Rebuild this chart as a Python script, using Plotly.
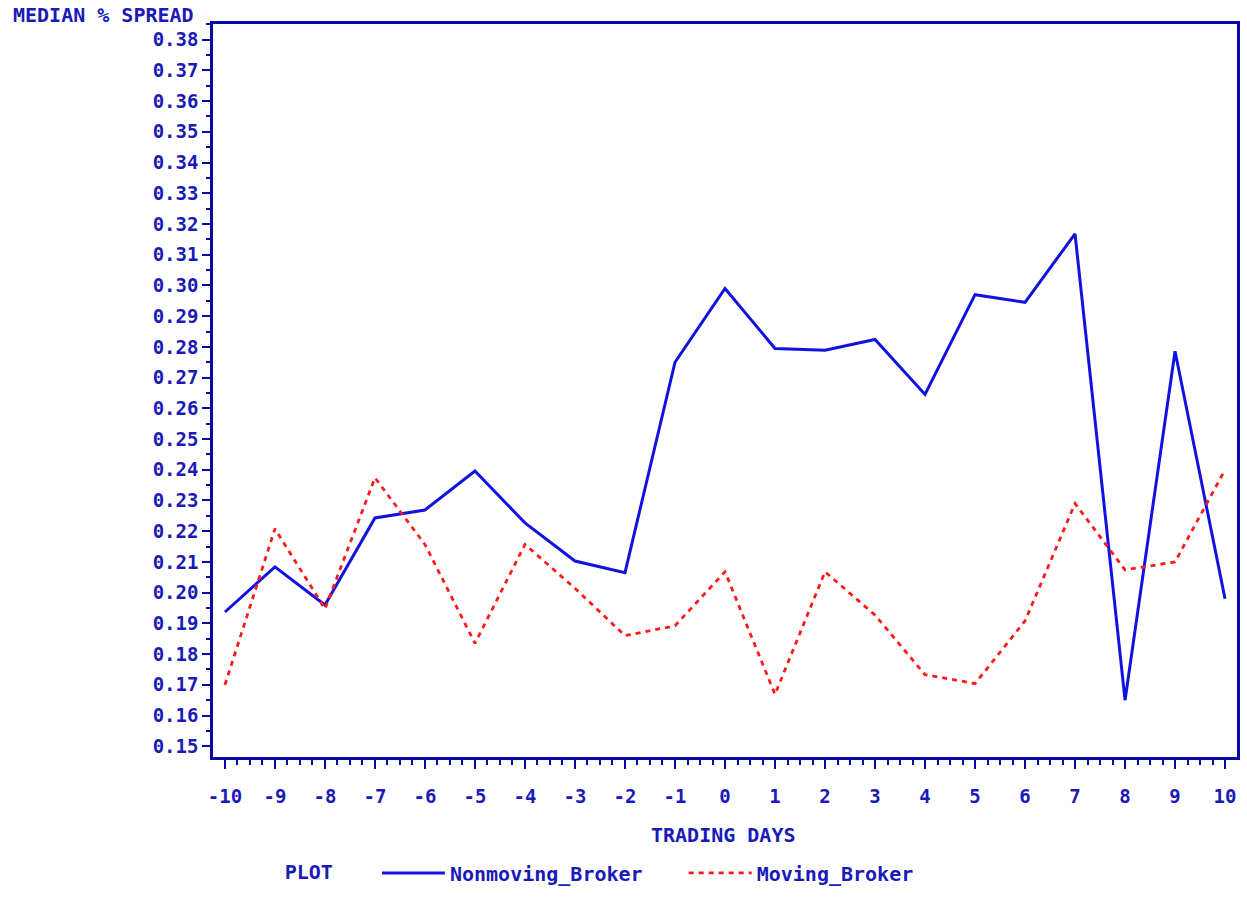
import plotly.graph_objects as go

days = list(range(-10, 11))
nonmoving = [0.1937, 0.2084, 0.1960, 0.2243, 0.2269, 0.2396, 0.2227, 0.2103, 0.2065,
             0.2750, 0.2990, 0.2795, 0.2789, 0.2824, 0.2645, 0.2970, 0.2945, 0.3168,
             0.1650, 0.2786, 0.1980]
moving = [0.1700, 0.2208, 0.1947, 0.2374, 0.2157, 0.1835, 0.2157, 0.2014, 0.1860,
          0.1892, 0.2068, 0.1669, 0.2068, 0.1927, 0.1733, 0.1704, 0.1908, 0.2290,
          0.2074, 0.2100, 0.2400]
y_ticks = [round(0.15 + 0.01 * i, 2) for i in range(24)]
y_labels = [f"{v:.2f}" for v in y_ticks]

TXT = "#1a1ab8"
AX = "#0a0aa8"
FONT = "DejaVu Sans Mono"

def f(size=19):
    return dict(family=FONT, size=size, color=TXT, weight="bold")

fig = go.Figure()
fig.add_trace(go.Scatter(x=days, y=nonmoving, mode="lines", name="Nonmoving_Broker   ",
                         line=dict(color="#1212e0", width=3)))
fig.add_trace(go.Scatter(x=days, y=moving, mode="lines", name="Moving_Broker",
                         line=dict(color="#ff1a1a", width=2.8, dash="5px,5px")))

fig.update_layout(
    width=1247, height=900,
    margin=dict(l=213, r=7, t=24, b=130),
    paper_bgcolor="white", plot_bgcolor="white",
    font=f(),
    showlegend=True,
    legend=dict(orientation="h", x=0.068, xanchor="left", y=-0.1582, yanchor="middle",
                title=dict(text="PLOT   ", side="left", font=f(20)),
                font=f(20), itemwidth=63, bgcolor="rgba(0,0,0,0)"),
    annotations=[
        dict(text="MEDIAN % SPREAD", xref="paper", yref="paper", x=-0.1977, y=1.0121,
             xanchor="left", yanchor="middle", showarrow=False, font=f(20)),
        dict(text="TRADING DAYS", xref="paper", yref="paper", x=0.4985, y=-0.1059,
             xanchor="center", yanchor="middle", showarrow=False, font=f(20)),
    ],
)

fig.update_xaxes(range=[-10.239, 10.239], tickmode="array", tickvals=days,
                 ticktext=[str(d) for d in days],
                 showgrid=False, zeroline=False, showline=True, linecolor=AX, linewidth=2.5,
                 mirror=True, ticks="outside", ticklen=9, tickwidth=2, tickcolor=AX,
                 ticklabelstandoff=11,
                 minor=dict(ticks="outside", ticklen=5, tickwidth=1.5, tickcolor=AX, dtick=0.25,
                            tick0=-10, showgrid=False))
fig.update_yaxes(range=[0.1465, 0.3851], tickmode="array", tickvals=y_ticks, ticktext=y_labels,
                 showgrid=False, zeroline=False, showline=True, linecolor=AX, linewidth=2.5,
                 mirror=True, ticks="outside", ticklen=8, tickwidth=2, tickcolor=AX,
                 minor=dict(ticks="outside", ticklen=4, tickwidth=1.5, tickcolor=AX, dtick=0.005,
                            tick0=0.15, showgrid=False))

fig.write_html("out.html", config={"displayModeBar": False},
               post_script="document.body.style.margin='0';document.documentElement.style.overflow='hidden';")
